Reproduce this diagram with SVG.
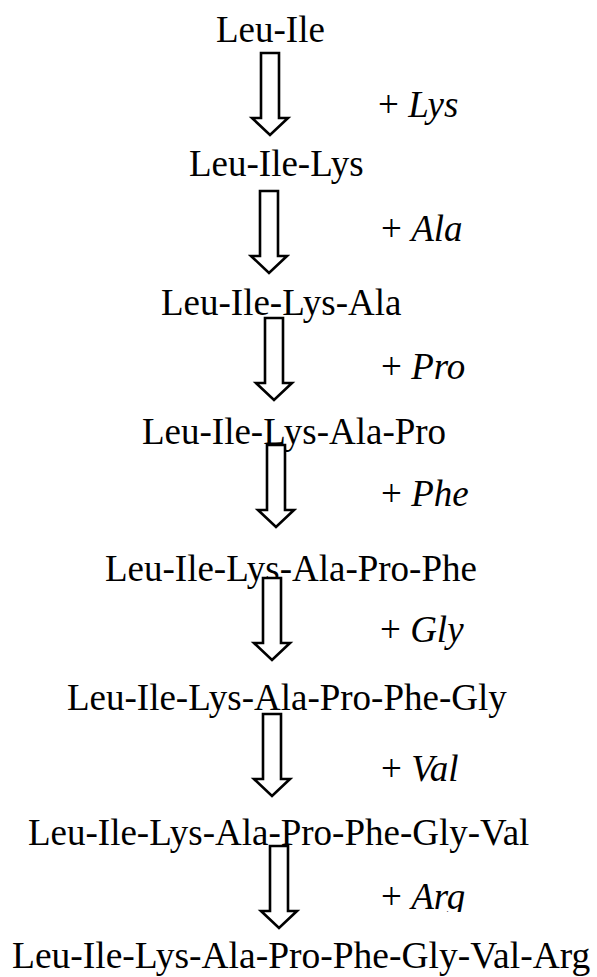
<svg xmlns="http://www.w3.org/2000/svg" width="597" height="977" viewBox="0 0 597 977">
<style>
.t{font-family:"Liberation Serif","Times New Roman",serif;font-size:37px;fill:#000}
.i{font-style:italic}
.arr{fill:#fff;stroke:#000;stroke-width:2.6;stroke-linejoin:miter}
</style>
<defs>
<path id="ar" d="M-9,0 H9 V65 H18 L0,82 L-18,65 H-9 Z"/>
<clipPath id="clipArg"><rect x="360" y="860" width="200" height="52"/></clipPath>
</defs>
<rect width="597" height="977" fill="#fff"/>
<g id="n1"><text class="t" x="216" y="42">Leu-Ile</text></g>
<g id="n2"><text class="t" x="189" y="176">Leu-Ile-Lys</text></g>
<g id="n3"><text class="t" x="161" y="315">Leu-Ile-Lys-Ala</text></g>
<g id="n4"><text class="t" x="142" y="444">Leu-Ile-Lys-Ala-Pro</text></g>
<g id="n5"><text class="t" x="105" y="581">Leu-Ile-Lys-Ala-Pro-Phe</text></g>
<g id="n6"><text class="t" x="67" y="710">Leu-Ile-Lys-Ala-Pro-Phe-Gly</text></g>
<g id="n7"><text class="t" x="28" y="845">Leu-Ile-Lys-Ala-Pro-Phe-Gly-Val</text></g>
<g id="n8"><text class="t" x="12" y="968" style="font-size:37.5px">Leu-Ile-Lys-Ala-Pro-Phe-Gly-Val-Arg</text></g>
<g id="connectors">
<use href="#ar" class="arr" transform="translate(270,53)"/>
<use href="#ar" class="arr" transform="translate(269,191)"/>
<use href="#ar" class="arr" transform="translate(274,318)"/>
<use href="#ar" class="arr" transform="translate(276,445)"/>
<use href="#ar" class="arr" transform="translate(272,578)"/>
<use href="#ar" class="arr" transform="translate(272,714)"/>
<use href="#ar" class="arr" transform="translate(279,846)"/>
<text class="t" x="378" y="117">+ <tspan class="i">Lys</tspan></text>
<text class="t" x="381" y="241">+ <tspan class="i">Ala</tspan></text>
<text class="t" x="381" y="379">+ <tspan class="i">Pro</tspan></text>
<text class="t" x="381" y="506">+ <tspan class="i">Phe</tspan></text>
<text class="t" x="380" y="642">+ <tspan class="i">Gly</tspan></text>
<text class="t" x="381" y="781">+ <tspan class="i">Val</tspan></text>
<text class="t" x="381" y="909" clip-path="url(#clipArg)">+ <tspan class="i">Arg</tspan></text>
</g>
</svg>
